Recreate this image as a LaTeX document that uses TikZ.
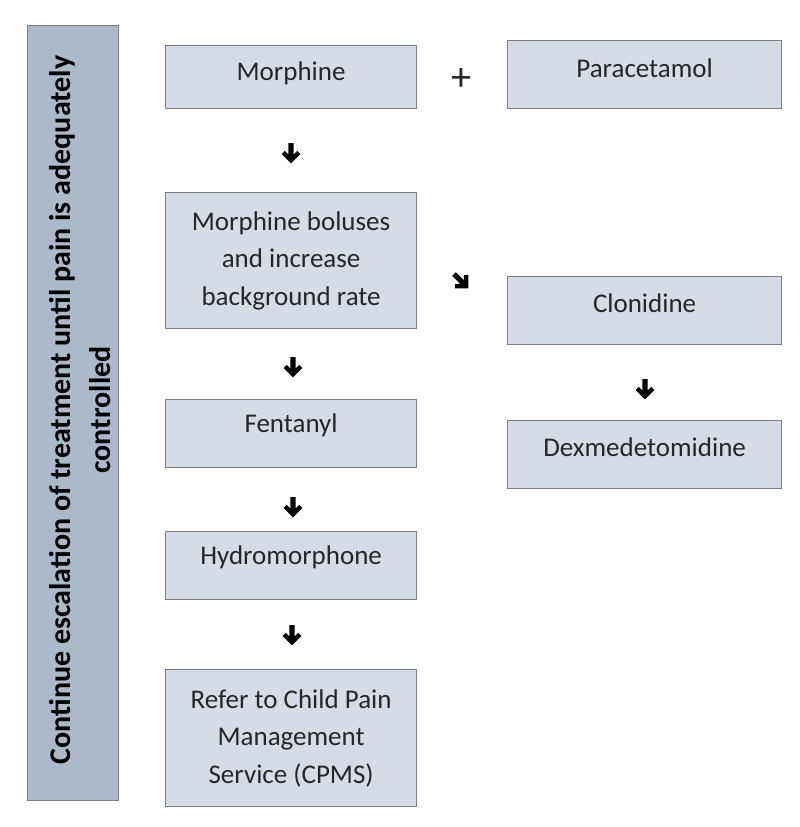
\documentclass[tikz,border=0pt]{standalone}
\usepackage{fontspec}
\setmainfont{Carlito}
\definecolor{boxfill}{HTML}{D6DCE5}
\definecolor{barfill}{HTML}{ADB9CA}
\definecolor{boxline}{HTML}{7F7F7F}
\definecolor{txt}{HTML}{262626}
\begin{document}
\begin{tikzpicture}[x=1pt,y=-1pt,
  drug/.style={draw=boxline,line width=1.2pt,fill=boxfill,inner sep=0pt,anchor=north west,
    font=\fontsize{27}{37.5}\selectfont,text=txt,align=center},
  lbl/.style={font=\fontsize{27}{37.5}\selectfont,text=txt},
  boldarrow/.pic={\fill[black] (-2.6,0) -- (2.6,0) -- (2.6,11.5) -- (6.2,7.9) -- (9.3,11) --
     (0,20.3) -- (-9.3,11) -- (-6.2,7.9) -- (-2.6,11.5) -- cycle;}]
\useasboundingbox (0,0) rectangle (800,827);
\fill[white] (0,0) rectangle (800,827);
% side bar
\node[draw=boxline,line width=1.2pt,fill=barfill,inner sep=0pt,anchor=north west,
  minimum width=91pt,minimum height=775pt] (bar) at (27,25) {};
\node[rotate=90,font=\bfseries\fontsize{30}{40}\selectfont,text=black,align=center] (bartext) at (80,410)
  {Continue escalation of treatment until pain is adequately\\controlled};
% boxes
\node[drug,minimum width=251pt,minimum height=63pt] (morph) at (165,45) {};
\node[lbl,yshift=4pt] (morphT) at (morph.center) {Morphine};
\node[drug,minimum width=274pt,minimum height=68pt] (para) at (507,40) {};
\node[lbl,yshift=6pt] (paraT) at (para.center) {Paracetamol};
\node[font=\fontsize{40}{44}\selectfont,text=txt] (plus) at (461,80) {+};
\node[drug,minimum width=251pt,minimum height=136pt] (bolus) at (165,192)
  {Morphine boluses\\and increase\\background rate};
\node[drug,minimum width=274pt,minimum height=68pt] (clon) at (507,276) {};
\node[lbl,yshift=7pt] (clonT) at (clon.center) {Clonidine};
\node[drug,minimum width=274pt,minimum height=68pt] (dex) at (507,420) {};
\node[lbl,yshift=7pt] (dexT) at (dex.center) {Dexmedetomidine};
\node[drug,minimum width=251pt,minimum height=68pt] (fent) at (165,399) {};
\node[lbl,yshift=8pt] (fentT) at (fent.center) {Fentanyl};
\node[drug,minimum width=251pt,minimum height=68pt] (hydro) at (165,531) {};
\node[lbl,yshift=8pt] (hydroT) at (hydro.center) {Hydromorphone};
\node[drug,minimum width=251pt,minimum height=137pt] (refer) at (165,669)
  {Refer to Child Pain\\Management\\Service (CPMS)};
% arrows
\pic at (291,143) {boldarrow};
\pic at (293,357) {boldarrow};
\pic at (293,497) {boldarrow};
\pic at (292,625) {boldarrow};
\pic at (645,379) {boldarrow};
\pic[rotate=45] at (454,274) {boldarrow};
\end{tikzpicture}
\end{document}
